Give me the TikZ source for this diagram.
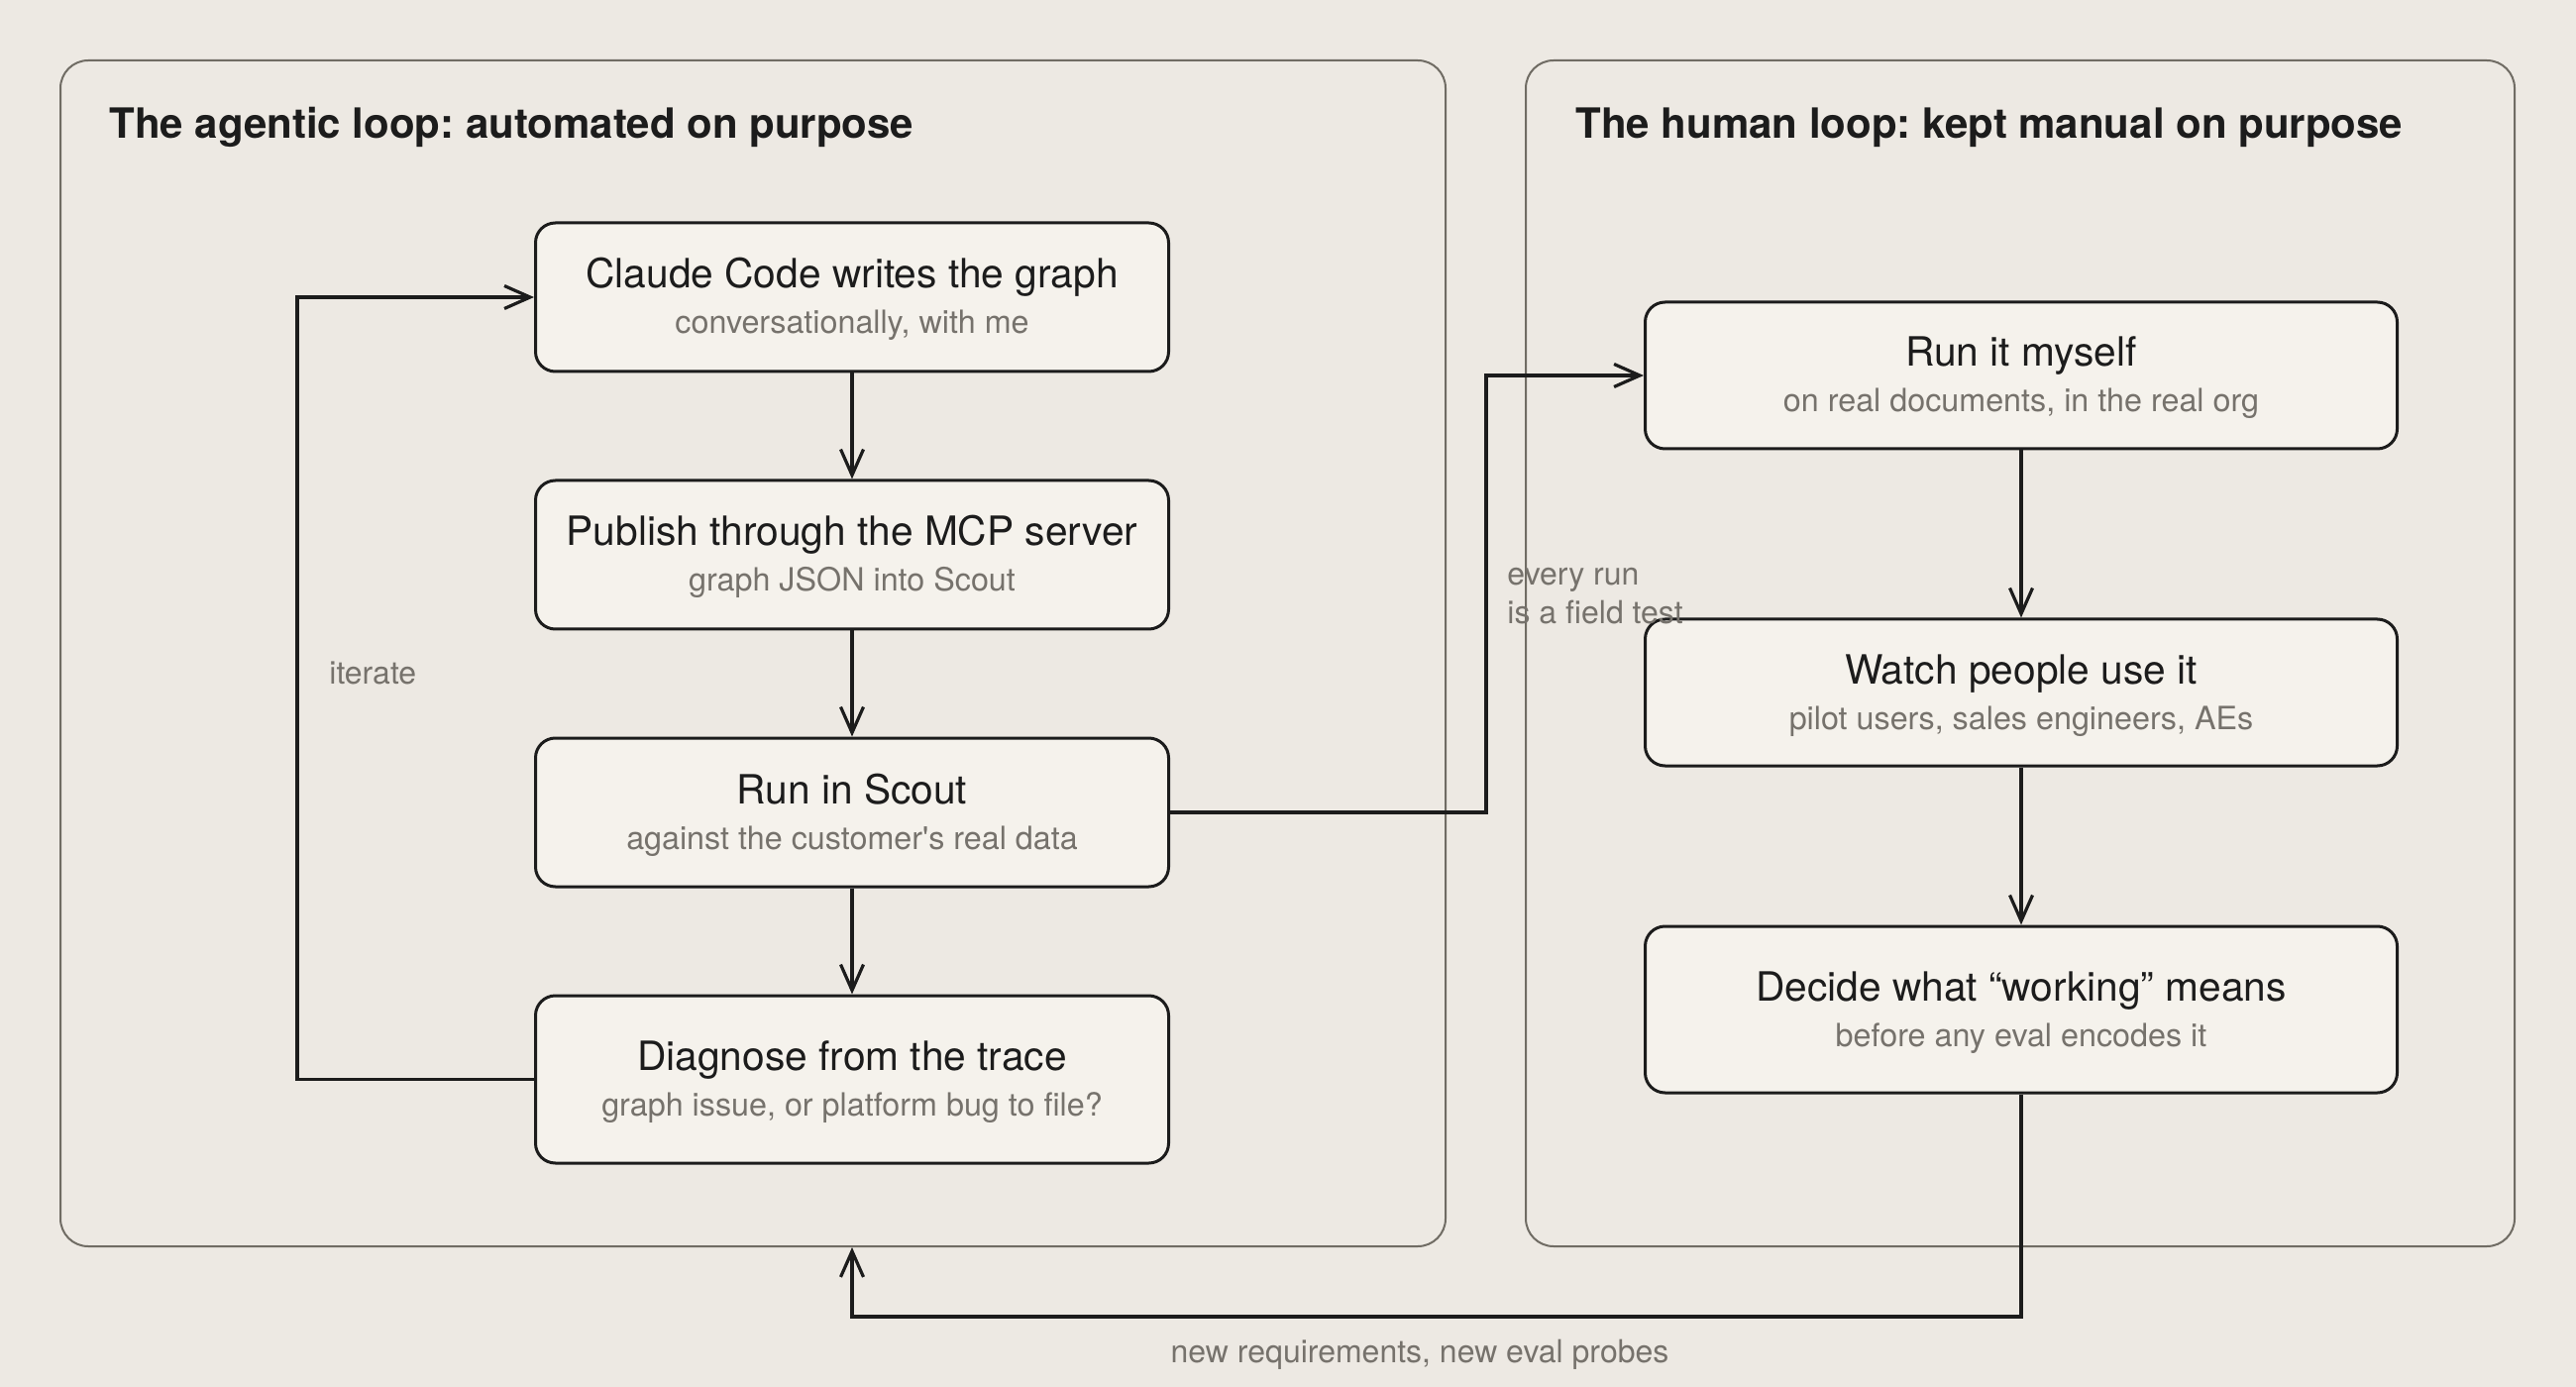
\documentclass[tikz,border=0pt]{standalone}
\usepackage{fontspec}
\setmainfont{TeX Gyre Heros}
\usetikzlibrary{arrows.meta}
\definecolor{bgc}{RGB}{237,233,227}
\definecolor{boxfill}{RGB}{245,242,236}
\definecolor{ink}{RGB}{28,28,28}
\definecolor{subgray}{RGB}{118,114,108}
\definecolor{framegray}{RGB}{112,108,100}
\frenchspacing
\begin{document}
\begin{tikzpicture}[x=0.5pt,y=-0.5pt,
  panel/.style={draw=framegray, line width=1pt, rounded corners=14pt, inner sep=0pt},
  stepbox/.style={draw=ink, fill=boxfill, line width=1.5pt, rounded corners=10pt, inner sep=0pt},
  leftbox/.style={stepbox, minimum width=319.5pt, minimum height=75pt},
  rightbox/.style={stepbox, minimum width=379.5pt, minimum height=74pt},
  ttl/.style={anchor=base, font=\fontsize{20.35}{24}\selectfont, text=ink, inner sep=0pt},
  subt/.style={anchor=base, font=\fontsize{16.15}{19}\selectfont, text=subgray, inner sep=0pt},
  paneltitle/.style={anchor=base west, font=\fontsize{21}{25}\selectfont\bfseries, text=ink, inner sep=0pt},
  lbl/.style={font=\fontsize{16}{19.5}\selectfont, text=subgray, inner sep=0pt},
  conn/.style={draw=ink, line width=1.6pt, -{Straight Barb[length=13pt,width=11.5pt,line width=1.6pt]}}
]
\useasboundingbox (0,0) rectangle (2600,1400);
\fill[bgc] (0,0) rectangle (2600,1400);

% panels
\node[panel, minimum width=699pt, minimum height=598.5pt] (lp) at (760,659.5) {};
\node[panel, minimum width=499pt, minimum height=598.5pt] (rp) at (2039,659.5) {};
\node[paneltitle] (lpt) at (110,140) {The agentic loop: automated on purpose};
\node[paneltitle] (rpt) at (1590,140) {The human loop: kept manual on purpose};

% left boxes
\node[leftbox] (c1) at (860,300) {};
\node[leftbox] (c2) at (860,560) {};
\node[leftbox] (c3) at (860,820) {};
\node[leftbox, minimum height=84.5pt] (c4) at (860,1089.5) {};
\node[ttl] (c1t) at ([yshift=4.5pt]c1.center) {Claude Code writes the graph};
\node[subt] (c1s) at ([yshift=-18.5pt]c1.center) {conversationally, with me};
\node[ttl] (c2t) at ([yshift=4.5pt]c2.center) {Publish through the MCP server};
\node[subt] (c2s) at ([yshift=-18.5pt]c2.center) {graph JSON into Scout};
\node[ttl] (c3t) at ([yshift=4.5pt]c3.center) {Run in Scout};
\node[subt] (c3s) at ([yshift=-18.5pt]c3.center) {against the customer\textquotesingle s real data};
\node[ttl] (c4t) at ([yshift=4.5pt]c4.center) {Diagnose from the trace};
\node[subt] (c4s) at ([yshift=-18.5pt]c4.center) {graph issue, or platform bug to file?};

% right boxes
\node[rightbox] (h1) at (2040,379) {};
\node[rightbox] (h2) at (2040,699) {};
\node[rightbox, minimum height=84pt] (h3) at (2040,1019) {};
\node[ttl] (h1t) at ([yshift=4.5pt]h1.center) {Run it myself};
\node[subt] (h1s) at ([yshift=-18.5pt]h1.center) {on real documents, in the real org};
\node[ttl] (h2t) at ([yshift=4.5pt]h2.center) {Watch people use it};
\node[subt] (h2s) at ([yshift=-18.5pt]h2.center) {pilot users, sales engineers, AEs};
\node[ttl] (h3t) at ([yshift=4.5pt]h3.center) {Decide what “working” means};
\node[subt] (h3s) at ([yshift=-18.5pt]h3.center) {before any eval encodes it};

% connectors
\draw[conn] (c1.south) -- (c2.north);
\draw[conn] (c2.south) -- (c3.north);
\draw[conn] (c3.south) -- (c4.north);
\draw[conn] (h1.south) -- (h2.north);
\draw[conn] (h2.south) -- (h3.north);

\coordinate (loopx) at (300,0);
\draw[conn] (c4.west) -- (c4.west -| loopx) |- (c1.west);
\node[lbl, anchor=base west] (iter) at (332,690) {iterate};

\coordinate (fieldx) at (1500,0);
\draw[conn] (c3.east) -- (c3.east -| fieldx) |- (h1.west);
\node[lbl, anchor=base west] (fl1) at (1521,591) {every run};
\node[lbl, anchor=base west] (fl2) at (1521,630) {is a field test};

\coordinate (rety) at (0,1329);
\draw[conn] (h3.south) -- (h3.south |- rety) -| (c4.south |- lp.south);
\node[lbl, anchor=base] (ret) at (1433,1375) {new requirements, new eval probes};
\end{tikzpicture}
\end{document}
